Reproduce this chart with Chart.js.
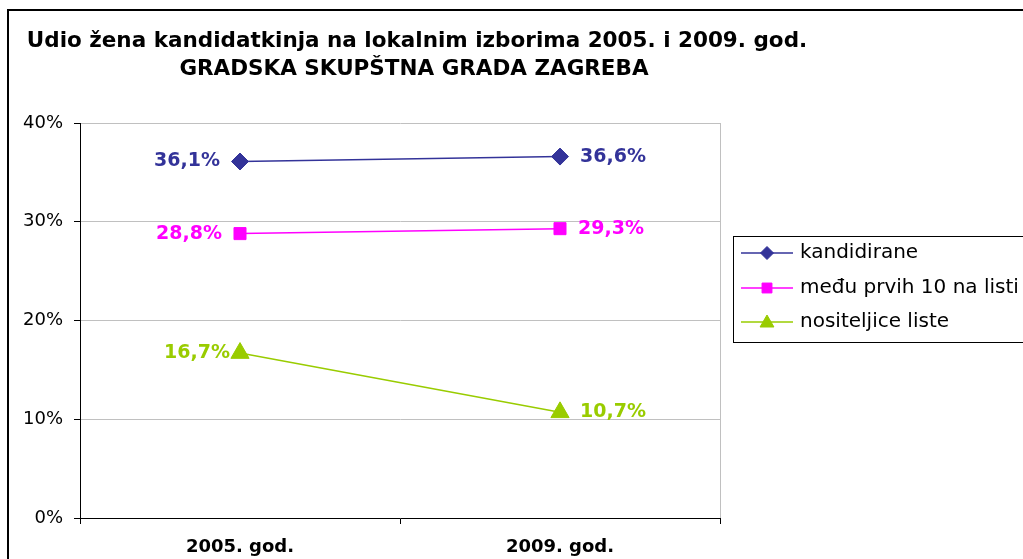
<!DOCTYPE html>
<html><head><meta charset="utf-8">
<script src="https://cdn.jsdelivr.net/npm/chart.js@4"></script>
<style>html,body{margin:0;padding:0;background:#fff}#wrap{width:1023px;height:559px;position:relative;overflow:hidden}</style>
</head><body><div id="wrap"><canvas id="c" width="1023" height="559"></canvas></div>
<script>
const categories = ['2005. god.', '2009. god.'];
const seriesNames = ['kandidirane', 'među prvih 10 na listi', 'nositeljice liste'];
const kandidirane = [36.1, 36.6];
const meduPrvih10 = [28.8, 29.3];
const nositeljice = [16.7, 10.7];
const yTicks = [0, 10, 20, 30, 40];
const titleLines = ['Udio žena kandidatkinja na lokalnim izborima 2005. i 2009. god.', 'GRADSKA SKUPŠTNA GRADA ZAGREBA'];

const FONT = "'DejaVu Sans', sans-serif";
const colors = ['#333399', '#FF00FF', '#99CC00'];
const pointStyles = ['rectRot', 'rect', 'triangle'];
const pointRadii = [8.5, 8.5, 10.5];
const legendRadii = [6.5, 7, 8];
const leftGap = [20, 18, 10];
const rightGap = [20, 18, 20];

const allSeries = [kandidirane, meduPrvih10, nositeljice];

const decor = {
  id: 'decor',
  beforeDraw(chart) {
    const ctx = chart.ctx;
    ctx.save();
    ctx.fillStyle = '#fff';
    ctx.fillRect(0, 0, chart.width, chart.height);
    ctx.restore();
  },
  afterDraw(chart) {
    const ctx = chart.ctx;
    const a = chart.chartArea;
    ctx.save();
    // right edge of plot area
    ctx.strokeStyle = '#c0c0c0';
    ctx.lineWidth = 1;
    ctx.beginPath();
    ctx.moveTo(Math.round(a.right) + 0.5, a.top);
    ctx.lineTo(Math.round(a.right) + 0.5, a.bottom);
    ctx.stroke();
    // outer frame
    ctx.strokeStyle = '#000';
    ctx.lineWidth = 2;
    ctx.strokeRect(8, 10, 1050, 600);
    // title
    ctx.fillStyle = '#000';
    ctx.font = 'bold 21.5px ' + FONT;
    ctx.textAlign = 'center';
    ctx.textBaseline = 'alphabetic';
    ctx.fillText(titleLines[0], 417, 47);
    ctx.fillText(titleLines[1], 414, 75);
    // data labels
    chart.data.datasets.forEach((ds, i) => {
      const meta = chart.getDatasetMeta(i);
      meta.data.forEach((pt, j) => {
        const txt = ds.data[j].toFixed(1).replace('.', ',') + '%';
        ctx.font = 'bold 19px ' + FONT;
        ctx.fillStyle = colors[i];
        ctx.textBaseline = 'middle';
        if (j === 0) {
          ctx.textAlign = 'right';
          ctx.fillText(txt, pt.x - leftGap[i], pt.y);
        } else {
          ctx.textAlign = 'left';
          ctx.fillText(txt, pt.x + rightGap[i], pt.y);
        }
      });
    });
    // legend
    ctx.strokeStyle = '#000';
    ctx.lineWidth = 1;
    ctx.strokeRect(733.5, 236.5, 320, 106);
    const rows = [253, 288, 322];
    chart.data.datasets.forEach((ds, i) => {
      const y = rows[i];
      ctx.strokeStyle = colors[i];
      ctx.lineWidth = 1.5;
      ctx.beginPath();
      ctx.moveTo(741, y);
      ctx.lineTo(793, y);
      ctx.stroke();
      ctx.fillStyle = colors[i];
      ctx.strokeStyle = colors[i];
      ctx.lineWidth = 1;
      Chart.helpers.drawPoint(ctx, {pointStyle: pointStyles[i], radius: legendRadii[i], borderWidth: 1, rotation: 0}, 767, i === 2 ? y + 1 : y);
      ctx.fillStyle = '#000';
      ctx.font = '20px ' + FONT;
      ctx.textAlign = 'left';
      ctx.textBaseline = 'middle';
      ctx.fillText(ds.label, 800, y);
    });
    ctx.restore();
  }
};

new Chart(document.getElementById('c'), {
  type: 'line',
  data: {
    labels: categories,
    datasets: allSeries.map((d, i) => ({
      label: seriesNames[i],
      data: d,
      borderColor: colors[i],
      backgroundColor: colors[i],
      pointStyle: pointStyles[i],
      pointRadius: pointRadii[i],
      pointHoverRadius: pointRadii[i],
      pointBorderWidth: 1,
      borderWidth: 1.5,
      tension: 0,
      fill: false
    }))
  },
  options: {
    responsive: false,
    animation: false,
    devicePixelRatio: 1,
    layout: {padding: {left: 0, right: 303, top: 123, bottom: 0}},
    plugins: {legend: {display: false}, title: {display: false}, tooltip: {enabled: false}},
    scales: {
      x: {
        type: 'category',
        offset: true,
        grid: {offset: true, drawOnChartArea: false, drawTicks: true, tickLength: 6, tickColor: '#000', color: '#000'},
        border: {color: '#000', width: 1},
        ticks: {color: '#000', font: {family: FONT, size: 18, weight: 'bold'}, padding: 13, maxRotation: 0, autoSkip: false},
        afterFit: s => { s.height = 41; }
      },
      y: {
        min: 0, max: 40,
        afterBuildTicks: s => { s.ticks = yTicks.map(v => ({value: v})); },
        grid: {color: '#c0c0c0', tickColor: '#000', tickLength: 6},
        border: {color: '#000', width: 1},
        ticks: {color: '#000', font: {family: FONT, size: 18}, padding: 11, callback: v => v + '%'},
        afterFit: s => { s.width = 80; }
      }
    }
  },
  plugins: [decor]
});
</script>
</body></html>
